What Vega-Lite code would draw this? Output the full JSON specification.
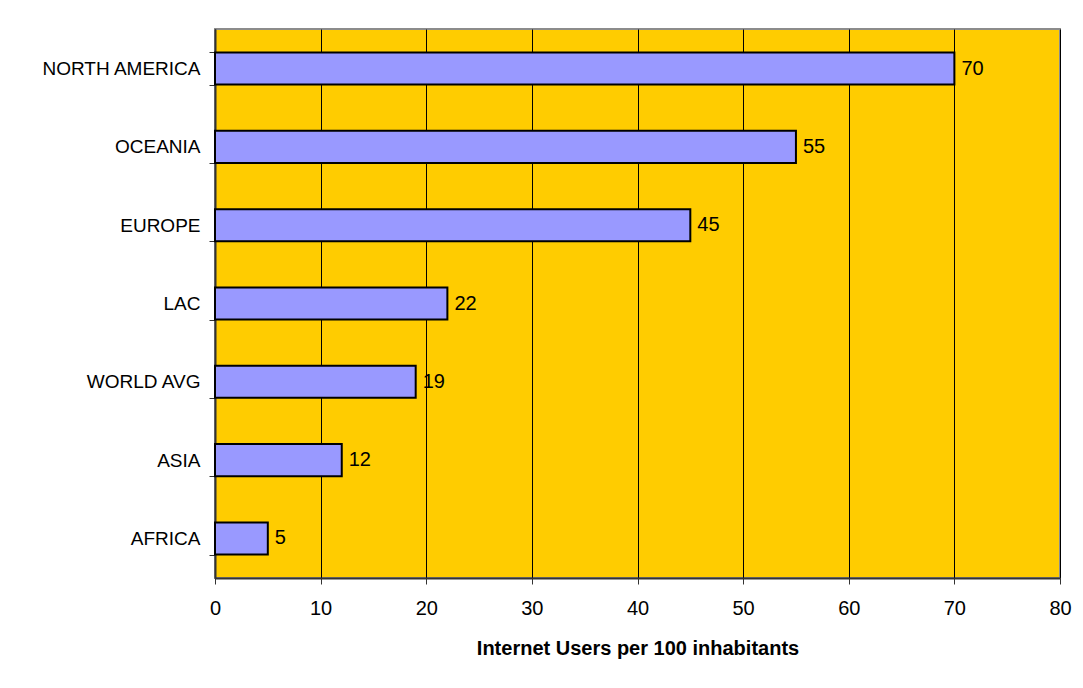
{
  "$schema": "https://vega.github.io/schema/vega-lite/v6.json",
  "autosize": "none",
  "width": 845,
  "height": 549,
  "padding": {"left": 215, "top": 29, "right": 23, "bottom": 110},
  "background": "white",
  "config": {
    "font": "Liberation Sans",
    "view": {"fill": "#FFCC00", "stroke": "#8c8c8c", "strokeWidth": 2}
  },
  "data": {
    "values": [
      {"region": "NORTH AMERICA", "users": 70},
      {"region": "OCEANIA", "users": 55},
      {"region": "EUROPE", "users": 45},
      {"region": "LAC", "users": 22},
      {"region": "WORLD AVG", "users": 19},
      {"region": "ASIA", "users": 12},
      {"region": "AFRICA", "users": 5}
    ]
  },
  "encoding": {
    "y": {
      "field": "region",
      "type": "nominal",
      "sort": null,
      "scale": {"paddingInner": 0.59, "paddingOuter": 0.3},
      "axis": {
        "title": null,
        "tickBand": "extent",
        "domainColor": "#333333",
        "domainWidth": 2,
        "tickColor": "#333333",
        "tickSize": 6,
        "labelFontSize": 19,
        "labelColor": "black",
        "labelPadding": 9
      }
    },
    "x": {
      "field": "users",
      "type": "quantitative",
      "scale": {"domain": [0, 80]},
      "axis": {
        "title": "Internet Users per 100 inhabitants",
        "titleFontSize": 20,
        "titleFontWeight": "bold",
        "titleColor": "black",
        "titlePadding": 20,
        "values": [0, 10, 20, 30, 40, 50, 60, 70, 80],
        "labelFlush": false,
        "grid": true,
        "gridColor": "black",
        "gridOpacity": 1,
        "gridWidth": 1,
        "domainColor": "#333333",
        "domainWidth": 2,
        "tickColor": "#333333",
        "tickSize": 6,
        "labelFontSize": 20,
        "labelColor": "black",
        "labelPadding": 14
      }
    }
  },
  "layer": [
    {
      "mark": {"type": "bar", "fill": "#9999FF", "stroke": "black", "strokeWidth": 2}
    },
    {
      "mark": {"type": "text", "align": "left", "baseline": "middle", "dx": 7, "fontSize": 20, "color": "black"},
      "encoding": {"text": {"field": "users", "type": "quantitative"}}
    }
  ]
}
